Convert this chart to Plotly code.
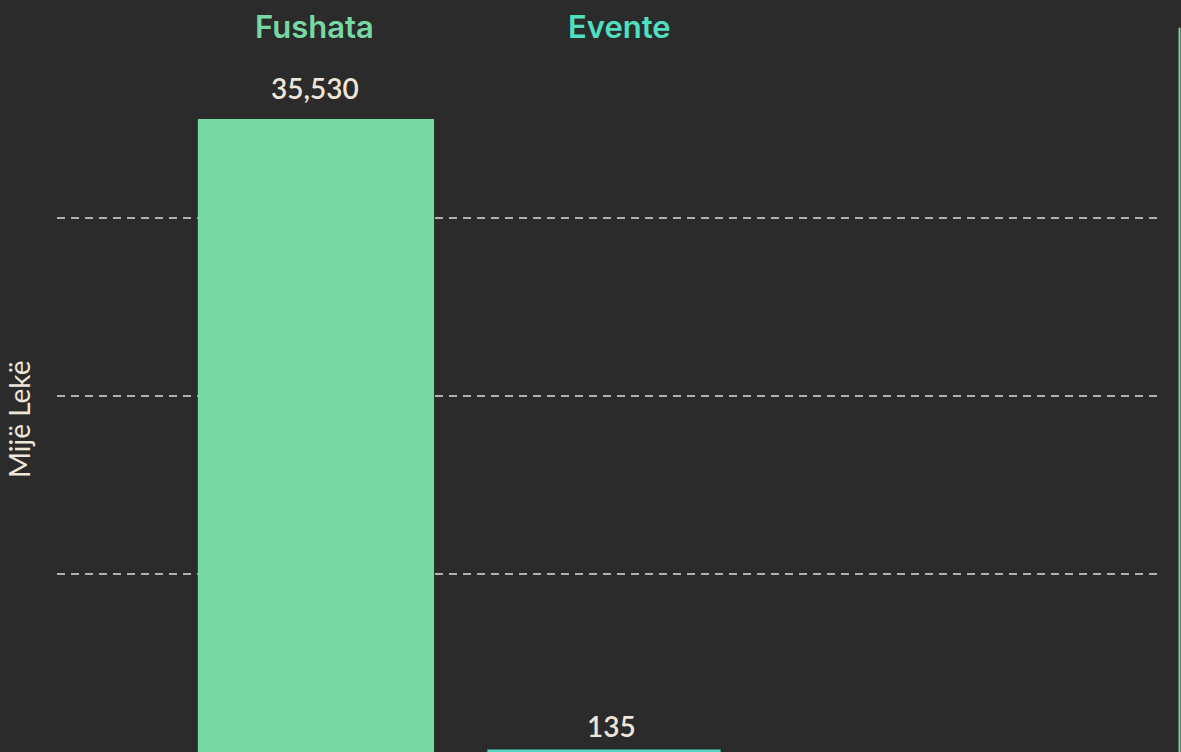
import plotly.graph_objects as go

categories = ["Fushata", "Evente"]
values = [35530, 135]
value_labels = ["35,530", "135"]
bar_colors = ["#78d8a4", "#52d6bd"]
label_colors = ["#78d8a4", "#4fe0c2"]
grid_vals = [10000, 20000, 30000]

BG = "#2b2b2b"
TXT = "#efe6d8"

fig = go.Figure()
fig.add_trace(go.Bar(
    x=[0, 1], y=values, marker=dict(color=bar_colors, line=dict(width=0)),
    width=[0.82, 0.81], hoverinfo="skip", showlegend=False,
))

annotations = []
for i, (c, v, vl, lc) in enumerate(zip(categories, values, value_labels, label_colors)):
    annotations.append(dict(
        x=i, y=v, xref="x", yref="y", text=vl, showarrow=False,
        yanchor="bottom", yshift=12 if i == 0 else 5, xshift=-1 if i == 0 else 8,
        font=dict(family="Lato", size=28, color=TXT, weight=600),
    ))
    annotations.append(dict(
        x=i, y=1, xref="x", yref="paper", text=c, showarrow=False,
        yanchor="middle", yshift=-26, xshift=-1 if i == 0 else 16,
        font=dict(family="Inter", size=31, color=lc, weight=600),
    ))

annotations.append(dict(
    x=0, xref="paper", xanchor="center", xshift=-38,
    y=1 - 419 / 752, yref="paper", yanchor="middle",
    text="Mijë Lekë", textangle=-90, showarrow=False,
    font=dict(family="Lato", size=28, color=TXT),
))

fig.update_layout(
    width=1181, height=752,
    paper_bgcolor=BG, plot_bgcolor=BG,
    margin=dict(l=57, r=24, t=0, b=0),
    annotations=annotations,
    xaxis=dict(range=[-0.899, 2.92], showticklabels=False, showgrid=False,
               zeroline=False, showline=False, ticks=""),
    yaxis=dict(range=[0, 42210], tickvals=grid_vals, showticklabels=False,
               showgrid=True, gridcolor="#b0b0b0", griddash="8px,6px", gridwidth=1.5,
               zeroline=False, showline=False, ticks=""),
    shapes=[dict(type="line", xref="paper", yref="paper", x0=1.0205, x1=1.0205,
                 y0=0, y1=0.963, line=dict(color="#78d8a4", width=2), layer="above")],
    bargap=0.18,
)

fig.write_html("out.html", config={"displayModeBar": False},
               post_script="document.body.style.margin='0';document.body.style.overflow='hidden';")
